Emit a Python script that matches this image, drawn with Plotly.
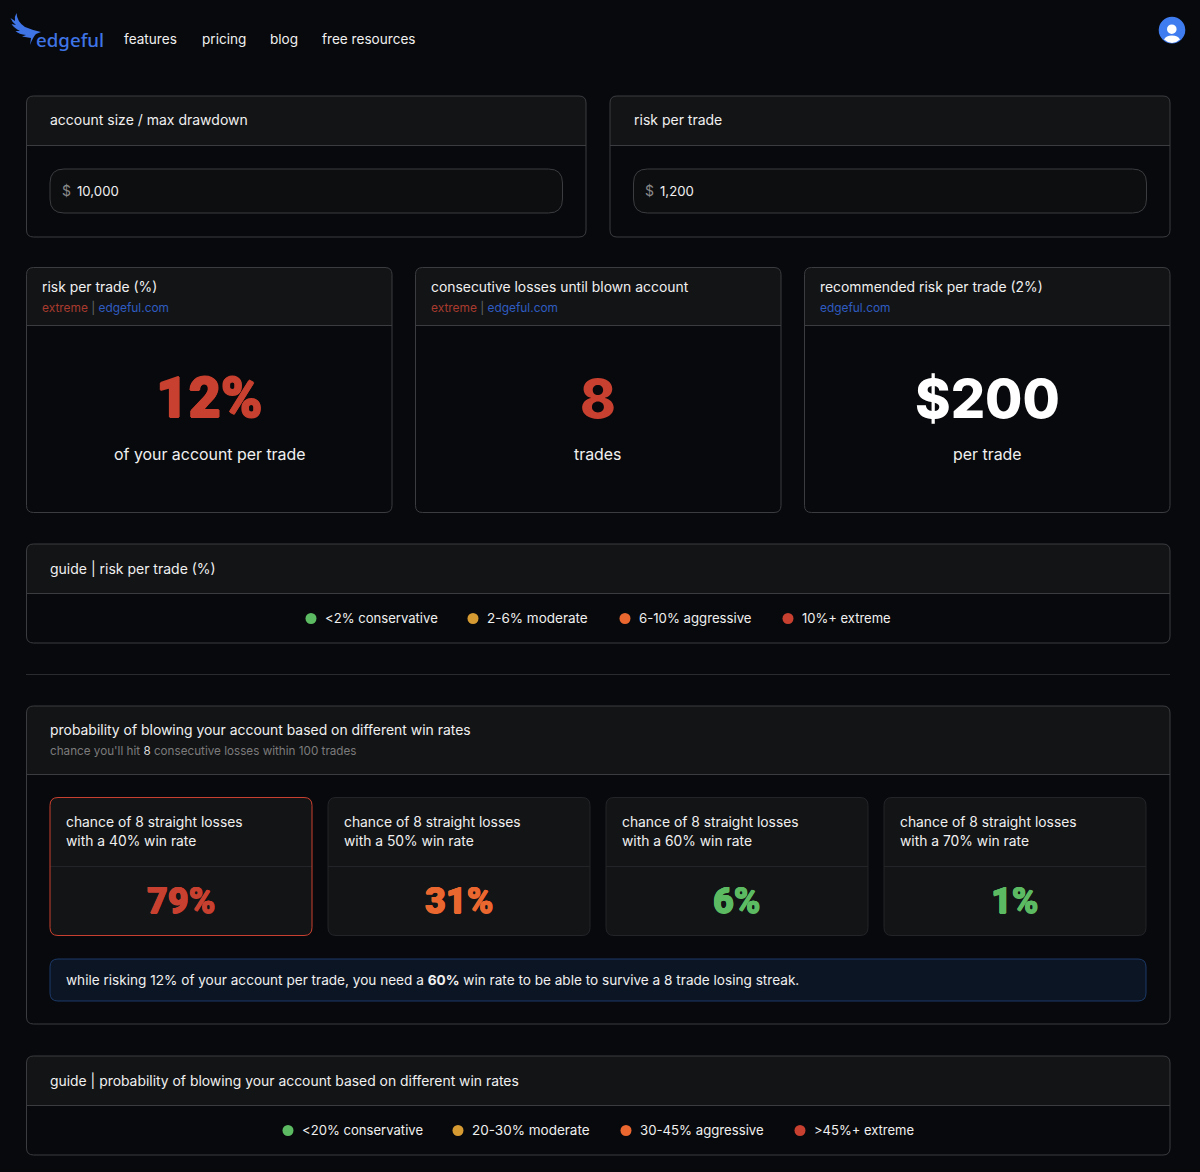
"""edgeful risk calculator page"""

import plotly.graph_objects as go

nav_links = ["features", "pricing", "blog", "free resources"]
account_size = "10,000"
risk_per_trade = "1,200"

stat_titles = ["risk per trade (%)", "consecutive losses until blown account", "recommended risk per trade (2%)"]
stat_tags = ["extreme", "extreme", ""]
stat_values = ["12%", "8", "$200"]
stat_units = ["of your account per trade", "trades", "per trade"]

guide_risk = ["<2% conservative", "2-6% moderate", "6-10% aggressive", "10%+ extreme"]
guide_prob = ["<20% conservative", "20-30% moderate", "30-45% aggressive", ">45%+ extreme"]

win_rates = [40, 50, 60, 70]
blow_chance = [79, 31, 6, 1]

BG = "#08090c"
HEAD = "#131416"
LINE = "#3b3c3f"
SOFT_LINE = "#232427"
TEXT = "#f0f0f0"
GREY = "#8a8a8a"
BLUE = "#3f74e6"
DIM_BLUE = "#2f5cc0"
RED = "#c8402f"
DIM_RED = "#a83b2e"
ORANGE = "#ea672f"
AMBER = "#d69a33"
GREEN = "#5cba62"
guide_colors = [GREEN, AMBER, ORANGE, RED]
guide_sizes = [13.1, 13.5, 13.2, 13.0]
FONT = "Inter"
BIG_FONT = "Roboto"

shapes = []
notes = []


def rounded(x0, y0, x1, y1, r, top_only=False):
    """Rounded rectangle path"""
    r2 = 0 if top_only else r
    return (
        f"M{x0 + r},{y0} L{x1 - r},{y0} Q{x1},{y0} {x1},{y0 + r} "
        f"L{x1},{y1 - r2} Q{x1},{y1} {x1 - r2},{y1} "
        f"L{x0 + r2},{y1} Q{x0},{y1} {x0},{y1 - r2} "
        f"L{x0},{y0 + r} Q{x0},{y0} {x0 + r},{y0} Z"
    )


def box(x0, y0, x1, y1, r=7, fill=BG, line=LINE, width=1):
    shapes.append(dict(type="path", path=rounded(x0, y0, x1, y1, r), fillcolor=fill,
                       line=dict(color=line, width=width), layer="below"))


def panel(x0, y0, x1, y1, head_y, r=7, fill=BG, head=HEAD, line=LINE, head_line=LINE):
    """Bordered panel with a shaded header band"""
    box(x0, y0, x1, y1, r, fill, "rgba(0,0,0,0)", 0)
    shapes.append(dict(type="path", path=rounded(x0, y0, x1, head_y, r, True), fillcolor=head,
                       line=dict(width=0), layer="below"))
    shapes.append(dict(type="line", x0=x0, x1=x1, y0=head_y, y1=head_y,
                       line=dict(color=head_line, width=1), layer="below"))
    box(x0, y0, x1, y1, r, "rgba(0,0,0,0)", line)


def text(x, y, s, size=14, color=TEXT, anchor="left", weight=None, family=FONT, shadow=None):
    font = dict(family=family, size=size, color=color)
    if weight:
        font["weight"] = weight
    if shadow:
        # no heavier cut of the font here, thicken the glyphs a little instead
        font["shadow"] = f"{shadow}px 0 0 {color},-{shadow}px 0 0 {color},0 {shadow}px 0 {color},0 -{shadow}px 0 {color}"
    # annotations carry a little padding, pull them back onto the grid
    if anchor == "left":
        x -= 2
    y -= 1
    notes.append(dict(x=x, y=y, text=s, showarrow=False, xanchor=anchor, yanchor="middle",
                      align=anchor, font=font, xref="x", yref="y"))


# nav
text(36, 40, "edgeful", 18.7, BLUE, weight=500, family="Noto Sans")
nav_x = [124, 202, 270, 322]
for x, s in zip(nav_x, nav_links):
    text(x, 40, s, 13.6)

shapes.append(dict(type="path", layer="below", fillcolor=BLUE, line=dict(width=0),
                   path="M16.5,13 Q17,22 25,27 Q32,30 41,32 L36,34 Q33,37 30,45 L31,38 L22,36.5 L26,35 "
                        "Q19,34.5 15.5,31 L20,31 Q14,28 11.5,24 L16,25 Q12,22 10.5,18 L15,21 Q14,17 16.5,13 Z"))
shapes.append(dict(type="circle", x0=1158.7, x1=1185.3, y0=16.8, y1=43.4, fillcolor="#3f7cf0", line=dict(width=0), layer="below"))
shapes.append(dict(type="circle", x0=1167, x1=1176.6, y0=24.4, y1=34, fillcolor="#ffffff", line=dict(width=0), layer="below"))
shapes.append(dict(type="path", layer="below", fillcolor="#ffffff", line=dict(width=0),
                   path="M1164,39.5 Q1166,35.5 1172,35.5 Q1178,35.5 1180,39.5 Q1176,43 1172,43 Q1168,43 1164,39.5 Z"))

# input panels
for x0, x1, title, val in [(26.5, 586, "account size / max drawdown", account_size),
                           (610, 1170, "risk per trade", risk_per_trade)]:
    panel(x0, 96, x1, 237, 145.5)
    text(x0 + 23.5, 120.5, title)
    box(x0 + 23.5, 169, x1 - 23.5, 213, 14, "#0d0e10", LINE)
    text(x0 + 35, 191.5, "$", 14, GREY)
    text(x0 + 50, 191.5, val, 13.2)

# stat cards
stat_x = [(26.5, 392), (415.5, 781), (804.5, 1170)]
stat_colors = [RED, RED, "#ffffff"]
stat_fonts = [(BIG_FONT, 56, 900, 0.8), (FONT, 54, 800, None), (FONT, 54, 800, None)]
for (x0, x1), title, tag, val, unit, col, big in zip(stat_x, stat_titles, stat_tags, stat_values, stat_units, stat_colors, stat_fonts):
    panel(x0, 267.5, x1, 512.5, 325.5)
    mid = (x0 + x1) / 2
    text(x0 + 15.5, 287.5, title, 13.9)
    link = f'<span style="color:{DIM_BLUE}">edgeful.com</span>'
    if tag:
        link = f'<span style="color:{DIM_RED}">{tag}</span><span style="color:#666"> | </span>' + link
    text(x0 + 15.5, 308, link, 11.9)
    text(mid, 399, val, big[1], col, "center", big[2], big[0], big[3])
    text(mid, 455, unit, 15.9, anchor="center")

# risk guide
panel(26.5, 544, 1170, 643, 593.5)
text(50, 569, "guide | risk per trade (%)")
dot_x = [311, 473, 625, 788]
for x, s, size in zip(dot_x, guide_risk, guide_sizes):
    text(x + 14, 619, s.replace("<", "&lt;"), size)

shapes.append(dict(type="line", x0=26, x1=1170, y0=674.5, y1=674.5, line=dict(color="#2a2b2e", width=1), layer="below"))

# probability panel
panel(26.5, 706, 1170, 1024, 774.5)
text(50, 731, "probability of blowing your account based on different win rates", 13.93)
text(50, 752, '<span style="color:#7c7c7c">chance you\'ll hit </span><span style="color:#ddd">8</span>'
              '<span style="color:#7c7c7c"> consecutive losses within 100 trades</span>', 11.7)

card_x = [(50, 312), (328, 590), (606, 868), (884, 1146)]
card_colors = [RED, ORANGE, GREEN, GREEN]
for (x0, x1), rate, pct, col in zip(card_x, win_rates, blow_chance, card_colors):
    border = RED if col == RED else SOFT_LINE
    panel(x0, 797.5, x1, 935.5, 866.5, 8, HEAD, HEAD, border, SOFT_LINE)
    text(x0 + 15.5, 823, "chance of 8 straight losses", 13.85)
    text(x0 + 15.5, 842, f"with a {rate}% win rate", 13.85)
    text((x0 + x1) / 2, 902, f"{pct}%", 36, col, "center", 900, BIG_FONT, 0.5)

box(50, 959, 1146, 1001, 8, "#0c1524", "#1c3a68")
text(65.5, 980.5, "while risking 12% of your account per trade, you need a <b>60%</b> win rate "
                  "to be able to survive a 8 trade losing streak.", 13.6)

# probability guide
panel(26.5, 1056, 1170, 1155, 1105.5)
text(50, 1081, "guide | probability of blowing your account based on different win rates", 13.9)
dot2_x = [288, 458, 626, 800]
for x, s, size in zip(dot2_x, guide_prob, guide_sizes):
    text(x + 14, 1131, s.replace("<", "&lt;"), size)

fig = go.Figure()
fig.add_trace(go.Scatter(x=dot_x + dot2_x, y=[618.5] * 4 + [1130.5] * 4, mode="markers",
                         marker=dict(size=11, color=guide_colors * 2), hoverinfo="skip"))
fig.update_layout(
    width=1200, height=1172, margin=dict(l=0, r=0, t=0, b=0), autosize=False,
    paper_bgcolor=BG, plot_bgcolor=BG, showlegend=False,
    shapes=shapes, annotations=notes,
    font=dict(family=FONT),
    xaxis=dict(range=[0, 1200], visible=False, fixedrange=True),
    yaxis=dict(range=[1172, 0], visible=False, fixedrange=True),
)
fig.write_html("out.html", config={"displayModeBar": False},
               post_script="document.body.style.margin='0';document.body.style.background='#08090c';document.body.style.overflow='hidden';")
